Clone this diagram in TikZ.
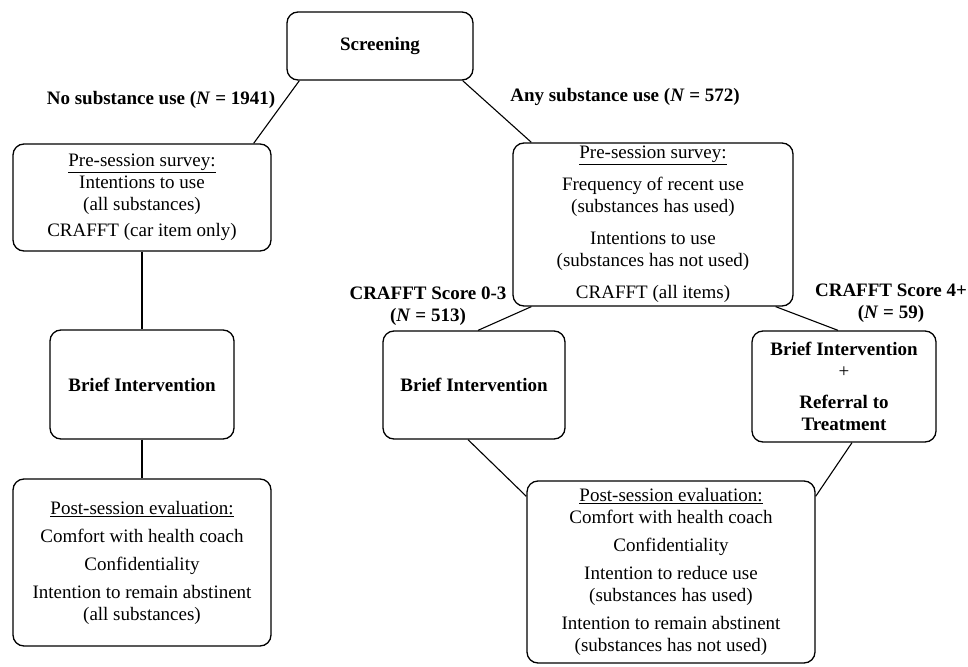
\documentclass[tikz,border=0pt]{standalone}
\usepackage{fontspec}
\setmainfont{Liberation Serif}
\begin{document}
\begin{tikzpicture}[x=1pt, y=-1pt,
    font=\fontsize{19}{22}\selectfont,
    box/.style={draw, rounded corners=11pt, line width=1.3pt, align=center, inner sep=2pt},
    boldbox/.style={box, font=\fontsize{19}{22}\selectfont\bfseries},
    tag/.style={align=center, inner sep=0pt, font=\fontsize{19}{22}\selectfont\bfseries},
    link/.style={line width=1.1pt}]
\useasboundingbox (0,0) rectangle (968,666);

\node[boldbox, minimum width=186pt, minimum height=68pt] (screen) at (380,46) {Screening};

\node[box, minimum width=258pt, minimum height=107pt] (preL) at (142,197.5)
  {\underline{Pre-session survey:}\\ Intentions to use\\ (all substances)\\[4pt] CRAFFT (car item only)};
\node[boldbox, minimum width=184pt, minimum height=109pt] (biL) at (142,384.5) {Brief Intervention};
\node[box, minimum width=258pt, minimum height=167pt] (postL) at (142,562.5)
  {\underline{Post-session evaluation:}\\[6pt] Comfort with health coach\\[6pt] Confidentiality\\[6pt]
   Intention to remain abstinent\\ (all substances)};

\node[box, minimum width=280pt, minimum height=163pt] (preR) at (653,224.5)
  {\underline{Pre-session survey:}\\[10pt] Frequency of recent use\\ (substances has used)\\[10pt]
   Intentions to use\\ (substances has not used)\\[10pt] CRAFFT (all items)};
\node[boldbox, minimum width=182pt, minimum height=108pt] (biM) at (474,385) {Brief Intervention};
\node[boldbox, minimum width=184pt, minimum height=111pt] (biR) at (844,386.5)
  {Brief Intervention\\ {\mdseries +}\\[9pt] Referral to\\ Treatment};
\node[box, minimum width=288pt, minimum height=182pt] (postR) at (671,572)
  {\underline{Post-session evaluation:}\\ Comfort with health coach\\[6pt] Confidentiality\\[6pt]
   Intention to reduce use\\ (substances has used)\\[6pt]
   Intention to remain abstinent\\ (substances has not used)};

\node[tag] (noUse) at (161,100) {No substance use (\textit{N} = 1941)};
\node[tag] (anyUse) at (625,97) {Any substance use (\textit{N} = 572)};
\node[tag] (lowScore) at (428,306) {CRAFFT Score 0-3\\ (\textit{N} = 513)};
\node[tag] (highScore) at (891,303) {CRAFFT Score 4+\\ (\textit{N} = 59)};

\draw[link] ([xshift=13pt]screen.south west) -- ([xshift=-18pt]preL.north east);
\draw[link] ([xshift=-11pt]screen.south east) -- ([xshift=19pt]preR.north west);
\draw[link] (preL.south) -- (biL.north);
\draw[link] (biL.south) -- (postL.north);
\draw[link] ([xshift=19pt]preR.south west) -- ([xshift=4pt]biM.north);
\draw[link] ([xshift=-18pt]preR.south east) -- ([xshift=-6pt]biR.north);
\draw[link] ([xshift=-6pt]biM.south) -- ([yshift=-16pt]postR.north west);
\draw[link] ([xshift=8pt]biR.south) -- ([yshift=-16pt]postR.north east);
\end{tikzpicture}
\end{document}
